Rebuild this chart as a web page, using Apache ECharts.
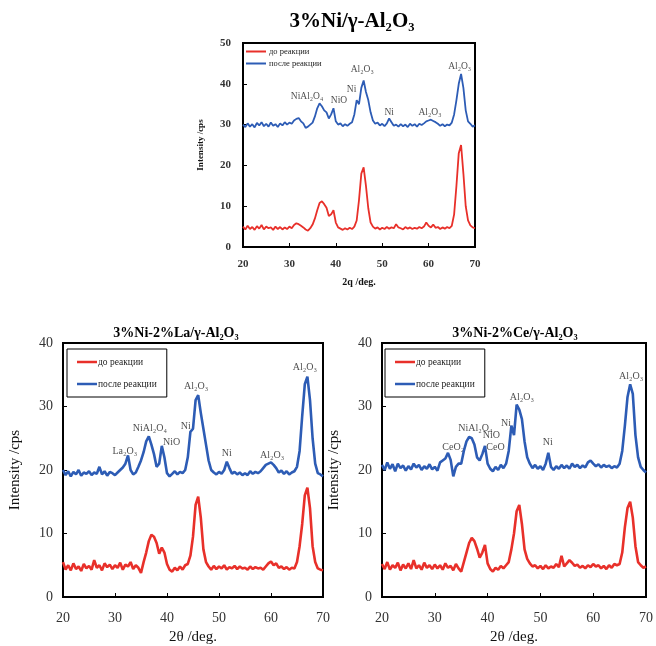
<!DOCTYPE html>
<html><head><meta charset="utf-8">
<script src="https://cdn.jsdelivr.net/npm/echarts@6/dist/echarts.min.js"></script>
<style>html,body{margin:0;padding:0;background:#fff}#c{width:656px;height:646px}</style>
</head><body><div id="c"></div>
<script>
const angles = [20,20.5,21,21.5,22,22.5,23,23.5,24,24.5,25,25.5,26,26.5,27,27.5,28,28.5,29,29.5,
30,30.5,31,31.5,32,32.5,33,33.5,34,34.5,35,35.5,36,36.5,37,37.5,38,38.5,39,39.5,
40,40.5,41,41.5,42,42.5,43,43.5,44,44.5,45,45.5,46,46.5,47,47.5,48,48.5,49,49.5,
50,50.5,51,51.5,52,52.5,53,53.5,54,54.5,55,55.5,56,56.5,57,57.5,58,58.5,59,59.5,
60,60.5,61,61.5,62,62.5,63,63.5,64,64.5,65,65.5,66,66.5,67,67.5,68,68.5,69,69.5,70];

const xTicks = [20,30,40,50,60,70];
const seriesNames = ['до реакции','после реакции'];

// 3%Ni/γ-Al2O3
const niBefore = [5.0,4.3,5.2,4.4,4.9,4.2,5.1,4.5,5.4,4.3,
5.0,4.6,4.8,4.2,5.0,4.4,4.9,4.3,4.8,4.4,
5.0,4.6,5.4,5.8,5.6,5.2,4.8,4.3,4.0,4.6,
5.5,7.0,9.0,10.8,11.2,10.5,9.6,7.6,8.0,9.0,
6.0,4.8,4.5,4.2,4.6,4.3,4.7,4.4,5.0,6.5,
11.5,18.0,19.5,15.0,9.5,6.0,5.0,4.5,4.8,4.3,
4.7,4.4,4.9,4.5,4.8,4.6,5.6,4.8,4.6,4.3,
4.9,4.5,4.8,4.4,4.7,4.5,4.9,4.6,5.0,6.0,
5.2,4.8,5.5,4.7,4.9,4.4,4.8,4.5,4.9,4.6,
5.2,8.0,15.0,23.0,25.0,18.0,10.0,6.5,5.3,4.8,
4.6];
const niAfter = [30.0,29.4,30.3,29.5,30.1,29.3,30.4,29.8,30.6,29.6,
30.2,29.5,30.5,29.7,30.1,29.4,30.3,29.8,30.6,30.0,
30.5,30.2,31.0,31.4,31.6,30.8,30.3,29.2,29.5,30.0,
30.5,32.0,34.0,35.2,34.5,33.5,33.0,31.5,32.5,34.0,
30.8,30.0,30.3,29.6,30.1,29.7,30.2,30.6,32.5,36.0,
35.0,39.0,40.8,38.0,36.0,33.0,31.0,30.2,30.5,29.8,
30.2,29.6,30.3,31.5,30.6,29.7,30.0,29.5,30.1,29.6,
30.0,29.4,30.2,29.7,30.1,29.5,30.2,29.9,30.3,30.8,
31.0,31.2,30.9,30.6,30.2,29.7,30.1,29.6,30.0,29.8,
30.5,32.5,36.0,40.0,42.4,39.0,33.5,30.8,30.2,29.5,
29.8];

// 3%Ni-2%La/γ-Al2O3
const laBefore = [5.5,4.3,5.0,4.2,5.3,4.4,4.8,4.1,5.2,4.5,
4.9,4.3,5.8,4.6,5.0,4.2,5.3,4.7,5.1,4.4,
5.0,4.6,5.4,4.3,5.1,4.8,5.5,4.4,5.0,4.6,
3.8,5.5,7.0,8.8,9.8,9.5,8.5,6.8,7.8,7.0,
5.2,4.3,4.0,4.6,4.2,4.8,4.3,5.0,5.2,6.5,
9.5,14.5,15.8,12.5,7.5,5.5,4.8,4.3,4.9,4.4,
4.8,4.5,5.0,4.3,4.7,4.5,4.9,4.4,4.8,4.5,
4.6,4.3,4.8,4.4,4.7,4.5,4.6,4.3,4.8,5.3,
5.6,5.0,5.3,4.6,4.8,4.4,4.7,4.3,4.6,4.5,
5.5,8.0,11.5,16.0,17.2,14.0,8.0,5.5,4.5,4.3,
4.2];
const laAfter = [20.0,19.2,19.8,19.0,19.7,19.3,20.0,19.1,19.6,19.4,
19.8,19.2,19.6,19.4,20.5,19.3,19.8,19.1,19.7,19.5,
19.2,19.6,20.0,20.4,21.0,22.3,20.0,19.3,19.6,20.5,
21.5,22.8,24.5,25.3,24.0,22.5,20.5,21.0,23.8,22.0,
19.5,19.0,19.4,19.8,19.3,19.7,19.5,20.0,22.0,26.0,
26.5,31.0,31.8,29.0,26.5,24.0,21.5,20.0,19.6,19.3,
19.7,19.4,20.0,21.3,20.3,19.4,19.7,19.3,19.6,19.2,
19.5,19.2,19.8,19.4,19.7,19.5,19.8,20.3,20.8,21.0,
21.2,20.8,20.3,19.6,19.9,19.4,19.8,19.3,19.6,19.8,
20.5,23.0,28.5,33.5,34.7,31.0,25.0,21.0,19.5,19.3,
19.0];

// 3%Ni-2%Ce/γ-Al2O3
const ceBefore = [5.2,4.4,5.5,4.3,5.0,4.6,5.4,4.2,5.1,4.5,
5.3,4.4,5.8,4.5,5.0,4.3,5.4,4.6,5.0,4.4,
5.1,4.5,5.0,4.3,5.3,4.6,4.9,4.2,5.2,4.5,
4.0,5.5,7.0,8.5,9.3,8.8,7.6,6.2,7.0,8.2,
5.3,4.4,4.0,4.6,4.3,4.9,4.5,5.0,5.5,7.5,
10.0,13.5,14.5,11.5,7.5,6.0,5.3,4.8,5.0,4.5,
4.9,4.4,5.0,4.5,4.8,4.6,5.2,4.7,6.5,4.8,
5.3,5.8,5.4,4.9,5.1,4.6,4.9,4.5,5.0,4.7,
5.2,4.8,5.0,4.5,4.9,4.4,5.0,4.6,5.2,5.0,
5.2,7.0,11.0,14.0,15.0,12.5,8.0,5.5,5.0,4.6,
4.8];
const ceAfter = [20.8,20.0,21.2,20.2,20.9,19.8,21.0,20.3,20.7,19.9,
20.6,20.1,21.0,20.4,20.8,20.0,20.6,20.2,20.9,20.1,
20.5,19.9,21.2,21.5,21.8,22.7,21.6,19.0,20.5,21.0,
21.0,23.0,24.5,25.2,25.0,24.0,22.0,21.5,22.5,23.8,
21.0,20.2,19.8,20.5,20.0,20.8,20.3,21.0,23.0,27.0,
25.5,30.3,29.5,28.0,24.5,22.0,21.0,20.3,20.8,20.2,
20.6,20.0,21.0,22.7,20.5,20.0,20.6,20.2,20.8,20.3,
20.7,20.2,21.0,20.5,20.8,20.3,20.7,20.4,21.2,21.5,
21.0,20.6,20.9,20.4,20.8,20.5,20.7,20.3,20.6,20.4,
21.0,23.0,27.0,31.5,33.5,32.0,25.5,22.0,20.5,20.0,
19.6];

// peak labels [angle, intensity, text]
const niLabels = [[33.8,36.8,'NiAl₂O₄'],[40.7,36.0,'NiO'],[43.4,38.7,'Ni'],[45.7,43.4,'Al₂O₃'],
  [51.5,32.9,'Ni'],[60.3,32.9,'Al₂O₃'],[66.7,44.2,'Al₂O₃']];
const laLabels = [[31.9,22.9,'La₂O₃'],[36.7,26.5,'NiAl₂O₄'],[40.9,24.3,'NiO'],[43.6,26.8,'Ni'],
  [45.6,33.1,'Al₂O₃'],[51.5,22.6,'Ni'],[60.2,22.3,'Al₂O₃'],[66.5,36.1,'Al₂O₃']];
const ceLabels = [[33.5,23.6,'CeO₂'],[37.7,26.6,'NiAl₂O₄'],[40.7,25.4,'NiO'],[41.5,23.6,'CeO'],
  [43.5,27.4,'Ni'],[46.5,31.5,'Al₂O₃'],[51.4,24.3,'Ni'],[67.2,34.8,'Al₂O₃']];

const titles = ['3%Ni/γ-Al₂O₃','3%Ni-2%La/γ-Al₂O₃','3%Ni-2%Ce/γ-Al₂O₃'];
const xNames = ['2q /deg.','2θ /deg.','2θ /deg.'];
const yName = 'Intensity /cps';

const RED = '#e8302a', BLUE = '#2d5cb5';
const SERIF = '"Liberation Serif","DejaVu Serif",serif';
const pair = v => angles.map((a,i)=>[a,v[i]]);

const grids = [
  {left:243, top:43, width:232, height:204},
  {left:63, top:343, width:260, height:255},
  {left:382, top:343, width:266, height:254}
];
const small = [true,false,false];
const yMax = [50,40,40];

const xAxis = grids.map((g,i)=>({
  type:'value', gridIndex:i, min:20, max:70, interval:10,
  name: xNames[i], nameLocation:'middle', nameGap: small[i]?30:33,
  nameTextStyle:{fontFamily:SERIF, fontSize: small[i]?10:15, fontWeight: small[i]?'bold':'normal', color:'#111'},
  axisLine:{lineStyle:{color:'#000', width:2}},
  axisTick:{inside:true, length:4, lineStyle:{color:'#000'}},
  splitLine:{show:false},
  axisLabel:{fontFamily:SERIF, fontSize: small[i]?11:14, fontWeight: small[i]?'bold':'normal', color:'#333', margin: small[i]?12:14}
}));
const yAxis = grids.map((g,i)=>({
  type:'value', gridIndex:i, min:0, max:yMax[i], interval:10,
  name: yName, nameLocation:'middle', nameGap: small[i]?38:40,
  nameTextStyle:{fontFamily:SERIF, fontSize: small[i]?9:15, fontWeight: small[i]?'bold':'normal', color:'#111'},
  axisLine:{lineStyle:{color:'#000', width:2}},
  axisTick:{inside:true, length:4, lineStyle:{color:'#000'}},
  splitLine:{show:false},
  axisLabel:{fontFamily:SERIF, fontSize: small[i]?11:14, fontWeight: small[i]?'bold':'normal', color:'#333', margin: small[i]?12:10}
}));

const datasets = [[niBefore,niAfter,niLabels],[laBefore,laAfter,laLabels],[ceBefore,ceAfter,ceLabels]];
const series = [];
datasets.forEach((d,i)=>{
  const w = small[i]?1.8:2.6;
  series.push({type:'line', name:seriesNames[0], xAxisIndex:i, yAxisIndex:i, data:pair(d[0]), showSymbol:false, lineStyle:{color:RED,width:w}, itemStyle:{color:RED}, animation:false});
  series.push({type:'line', name:seriesNames[1], xAxisIndex:i, yAxisIndex:i, data:pair(d[1]), showSymbol:false, lineStyle:{color:BLUE,width:w}, itemStyle:{color:BLUE}, animation:false});
  series.push({type:'scatter', name:'labels'+i, xAxisIndex:i, yAxisIndex:i, data:d[2], symbolSize:0,
    label:{show:true, position:'inside', formatter:p=>p.data[2], fontFamily:SERIF, fontSize: small[i]?9.5:10, color:'#222'},
    silent:true, animation:false});
});

const legend = [
  {left:246, top:47, orient:'vertical', itemGap:3, itemWidth:20, itemHeight:2, icon:'rect', padding:0,
   data:seriesNames, textStyle:{fontFamily:SERIF, fontSize:8.5, color:'#222', padding:[0,0,0,-2]}},
  {left:67, top:349, width:106, orient:'vertical', itemGap:12, itemWidth:20, itemHeight:2.5, icon:'rect',
   padding:[8,10,8,10], borderColor:'#000', borderWidth:1,
   data:seriesNames, textStyle:{fontFamily:SERIF, fontSize:9.5, color:'#222', padding:[0,0,0,-4]}},
  {left:385, top:349, orient:'vertical', itemGap:12, itemWidth:20, itemHeight:2.5, icon:'rect',
   padding:[8,10,8,10], borderColor:'#000', borderWidth:1,
   data:seriesNames, textStyle:{fontFamily:SERIF, fontSize:9.5, color:'#222', padding:[0,0,0,-4]}}
];

const titlePos = [[352,22,21],[176,333,14],[515,333,14]];
const graphic = titles.map((t,i)=>({
  type:'text', x:titlePos[i][0], y:titlePos[i][1],
  style:{text:t, font:'bold '+titlePos[i][2]+'px '+SERIF, fill:'#000', textAlign:'center', textVerticalAlign:'middle'}
}));

const chart = echarts.init(document.getElementById('c'), null, {renderer:'canvas'});
chart.setOption({
  animation:false,
  backgroundColor:'#fff',
  grid: grids.map(g=>Object.assign({show:true, borderColor:'#000', borderWidth:2, backgroundColor:'transparent'}, g)),
  xAxis, yAxis, series, legend, graphic
});
</script></body></html>
